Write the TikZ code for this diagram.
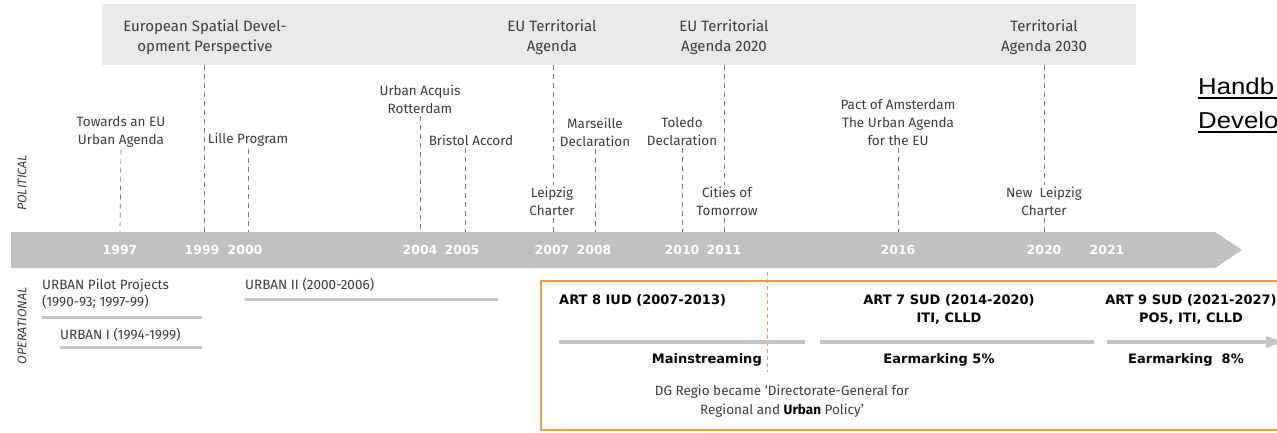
\documentclass[tikz,border=0pt]{standalone}
\usepackage{fontspec}
\setmainfont{Fira Sans}
\newfontfamily\hfont[FakeStretch=1.12]{Liberation Sans}
\newfontfamily\bfont{DejaVu Sans}
\definecolor{bandgrey}{HTML}{E9E9E9}
\definecolor{axisgrey}{HTML}{C0C0C0}
\definecolor{bargrey}{HTML}{C4C4C4}
\definecolor{txtgrey}{HTML}{3C3C3C}
\definecolor{dashgrey}{HTML}{7A7A7A}
\definecolor{orangeline}{HTML}{F29A48}
\tikzset{
  bandtext/.style={align=center, text=txtgrey, inner sep=0pt, font=\fontsize{15}{20}\selectfont},
  evtext/.style={align=center, text=txtgrey, inner sep=2pt, font=\fontsize{13.5}{18}\selectfont},
  optext/.style={align=left, text=txtgrey, inner sep=0pt, font=\fontsize{13.5}{17}\selectfont},
  yeartext/.style={text=white, inner sep=0pt, font=\fontsize{12.5}{14}\selectfont\bfont\bfseries},
  arttext/.style={align=center, text=black, inner sep=0pt, font=\fontsize{13}{18}\selectfont\bfont\bfseries},
  sidetext/.style={rotate=90, text=txtgrey, inner sep=0pt, font=\fontsize{12.5}{14}\selectfont\itshape},
  dline/.style={draw=dashgrey, line width=0.7pt, dash pattern=on 5pt off 4pt},
  opbar/.style={draw=bargrey, line width=3pt},
  artbar/.style={draw=bargrey, line width=3.5pt},
  hbtext/.style={inner sep=0pt, text=black, font=\fontsize{23}{30}\selectfont\hfont},
}
\begin{document}
\begin{tikzpicture}[x=1pt,y=-1pt]
\useasboundingbox (0,0) rectangle (1277,432);
\clip (0,0) rectangle (1277,432);
% top band
\fill[bandgrey] (102,4) rectangle (1136,65);
\node[bandtext] (esdp) at (205,37) {European Spatial Devel-\\opment Perspective};
\node[bandtext] (eta) at (552,37) {EU Territorial\\Agenda};
\node[bandtext] (eta20) at (724,37) {EU Territorial\\Agenda 2020};
\node[bandtext] (ta30) at (1044,37) {Territorial\\Agenda 2030};
\coordinate (besdp) at (204,65);
\coordinate (beta) at (553,65);
\coordinate (beta20) at (724,65);
\coordinate (bta30) at (1044,65);
% axis
\fill[axisgrey] (11,232) -- (1215,232) -- (1242,250) -- (1215,268) -- (11,268) -- cycle;
\foreach \x/\y in {120/1997,202/1999,245/2000,420/2004,462/2005,552/2007,594/2008,682/2010,724/2011,898/2016,1044/2020,1107/2021}
  \node[yeartext] (y\y) at (\x,250) {\y};
\foreach \x/\n in {120/a97,204/a99,248/a00,420/a04,465/a05,553/a07,595/a08,682/a10,724/a11,898/a16,1044/a20}
  \coordinate (\n) at (\x,232);
% side labels
\node[sidetext] (pol) at (22,183) {POLITICAL};
\node[sidetext] (oper) at (22,326) {OPERATIONAL};
% political events
\node[evtext] (towards) at (121,132) {Towards an EU\\Urban Agenda};
\node[evtext] (lille) at (248,140) {Lille Program};
\node[evtext] (acquis) at (420,99.5) {Urban Acquis\\Rotterdam};
\node[evtext] (bristol) at (471,140) {Bristol Accord};
\node[evtext] (leipzig) at (552,201.5) {Leipzig\\Charter};
\node[evtext] (marseille) at (595,132) {Marseille\\Declaration};
\node[evtext] (toledo) at (682,132) {Toledo\\Declaration};
\node[evtext] (cities) at (727,201.5) {Cities of\\Tomorrow};
\node[evtext] (pact) at (898,123) {Pact of Amsterdam\\The Urban Agenda\\for the EU};
\node[evtext] (newleipzig) at (1044,201.5) {New\ \ Leipzig\\Charter};
% dashed connectors
\draw[dline] (towards.south) -- (a97);
\draw[dline] (besdp) -- (a99);
\draw[dline] (lille.south -| a00) -- (a00);
\draw[dline] (acquis.south) -- (a04);
\draw[dline] (bristol.south -| a05) -- (a05);
\draw[dline] (beta) -- (leipzig.north -| beta);
\draw[dline] (leipzig.south -| a07) -- (a07);
\draw[dline] (marseille.south) -- (a08);
\draw[dline] (toledo.south) -- (a10);
\draw[dline] (beta20) -- (cities.north -| beta20);
\draw[dline] (cities.south -| a11) -- (a11);
\draw[dline] (pact.south) -- (a16);
\draw[dline] (bta30) -- (newleipzig.north -| bta30);
\draw[dline] (newleipzig.south -| a20) -- (a20);
% operational
\node[optext, anchor=west] (pilot) at (42,293.5) {URBAN Pilot Projects\\(1990-93; 1997-99)};
\draw[opbar] (42,317) -- (202,317);
\node[optext, anchor=west] (urban1) at (60,335) {URBAN I (1994-1999)};
\draw[opbar] (60,347) -- (202,347);
\node[optext, anchor=west] (urban2) at (245,285) {URBAN II (2000-2006)};
\draw[opbar] (245,299) -- (498,299);
% orange box
\draw[orangeline, line width=1.6pt] (541,281) rectangle (1300,430);
\draw[orangeline, line width=0.8pt, dash pattern=on 4pt off 3pt] (767,272) -- (767,372);
\node[arttext, anchor=west] (art8) at (559,300) {ART 8 IUD (2007-2013)};
\draw[artbar] (559,342) -- (805,342);
\node[arttext, anchor=east] (mainstr) at (762,360) {Mainstreaming};
\node[align=center, text=txtgrey, inner sep=0pt, font=\fontsize{13.5}{19}\selectfont] (dg) at (782,401.5) {DG Regio became ‘Directorate-General for\\Regional and {\bfseries\color{black}Urban} Policy’};
\node[arttext] (art7) at (949,309) {ART 7 SUD (2014-2020)\\ITI, CLLD};
\draw[artbar] (820,342) -- (1094,342);
\node[arttext] (earm5) at (939,360) {Earmarking 5\%};
\node[arttext] (art9) at (1191,309) {ART 9 SUD (2021-2027)\\PO5, ITI, CLLD};
\draw[artbar] (1107,342) -- (1268,342);
\fill[bargrey] (1266,336) -- (1284,342) -- (1266,348) -- cycle;
\node[arttext] (earm8) at (1186,360) {Earmarking\ \ 8\%};
% handbook link (cut off at the right edge, as in the source)
\node[hbtext, anchor=base west] (hb1) at (1198,94) {Handb};
\node[hbtext, anchor=base west] (hb2) at (1198,128) {Develo};
\draw[black, line width=2pt] (hb1.base west) ++(0,3.5) -- (1300,97.5);
\draw[black, line width=2pt] (hb2.base west) ++(0,3.5) -- (1300,131.5);
\end{tikzpicture}
\end{document}
